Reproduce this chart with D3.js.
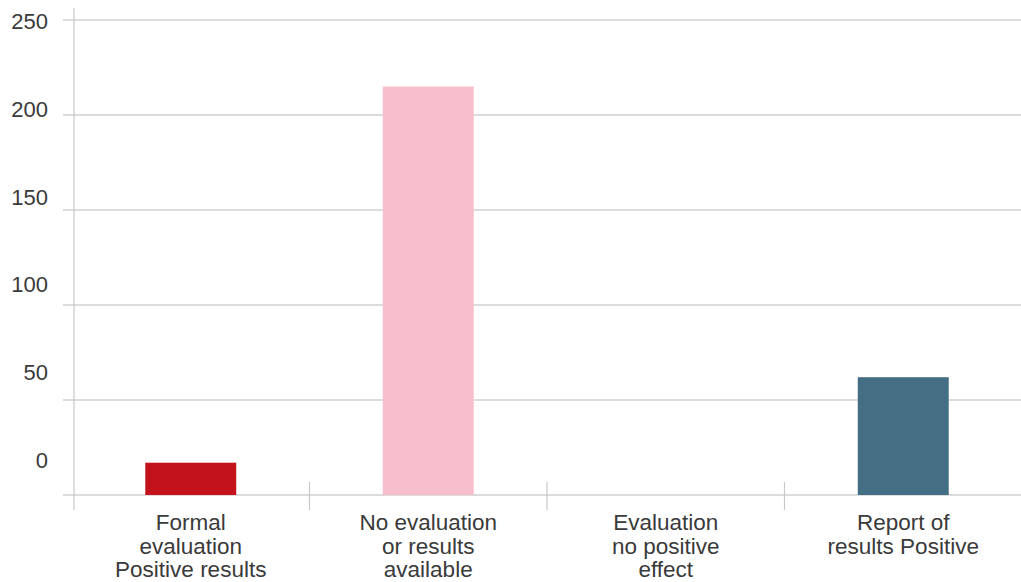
<!DOCTYPE html>
<html>
<head>
<meta charset="utf-8">
<script src="https://cdn.jsdelivr.net/npm/d3@7/dist/d3.min.js"></script>
<style>
html,body{margin:0;padding:0;background:#fff;}
text{font-family:"Liberation Sans",Arial,sans-serif;fill:#3a3a3a;}
</style>
</head>
<body>
<svg id="chart" width="1021" height="582"></svg>
<script>
const categories = [
  ["Formal", "evaluation", "Positive results"],
  ["No evaluation", "or results", "available"],
  ["Evaluation", "no positive", "effect"],
  ["Report of", "results Positive"]
];
const values = [17, 215, 0, 62];
const colors = ["#C3121C", "#F7BFCC", "#C3121C", "#436E84"];
const yTicks = [0, 50, 100, 150, 200, 250];

const svg = d3.select("#chart");
const keys = categories.map((c, i) => i);

const x = d3.scaleBand().domain(keys).range([72, 1022]).padding(0);
const y = d3.scaleLinear().domain([0, 250]).range([495, 20]);
const yLabel = d3.scaleLinear().domain([0, 250]).range([460, 21]);

// gridlines
svg.append("g").selectAll("line").data(yTicks).join("line")
  .attr("x1", 63).attr("x2", 1021)
  .attr("y1", d => y(d)).attr("y2", d => y(d))
  .attr("stroke", "#d0d0d0").attr("stroke-width", 1.5);

// y axis line
svg.append("line").attr("x1", 74).attr("x2", 74).attr("y1", 8).attr("y2", 510)
  .attr("stroke", "#c8c8c8").attr("stroke-width", 1.2);

// category boundary ticks
svg.append("g").selectAll("line").data(keys.slice(1)).join("line")
  .attr("x1", d => x(d)).attr("x2", d => x(d))
  .attr("y1", 482).attr("y2", 510)
  .attr("stroke", "#c8c8c8").attr("stroke-width", 1.2);

// y labels
svg.append("g").selectAll("text").data(yTicks).join("text")
  .attr("x", 48).attr("y", d => yLabel(d))
  .attr("dy", "0.36em")
  .attr("text-anchor", "end")
  .attr("font-size", 22)
  .text(d => d);

// bars
const bw = x.bandwidth() * 0.383;
svg.append("g").selectAll("rect").data(values).join("rect")
  .attr("x", (d, i) => x(i) + x.bandwidth() / 2 - bw / 2)
  .attr("width", bw)
  .attr("y", d => y(d))
  .attr("height", d => y(0) - y(d))
  .attr("fill", (d, i) => colors[i]);

// x labels
const lab = svg.append("g").selectAll("text").data(categories).join("text")
  .attr("text-anchor", "middle")
  .attr("font-size", 22.5)
  .attr("x", (d, i) => x(i) + x.bandwidth() / 2)
  .attr("y", 530);
lab.selectAll("tspan").data(d => d).join("tspan")
  .attr("x", function() { return d3.select(this.parentNode).attr("x"); })
  .attr("dy", (d, i) => i === 0 ? 0 : 23.5)
  .text(d => d);
</script>
</body>
</html>
